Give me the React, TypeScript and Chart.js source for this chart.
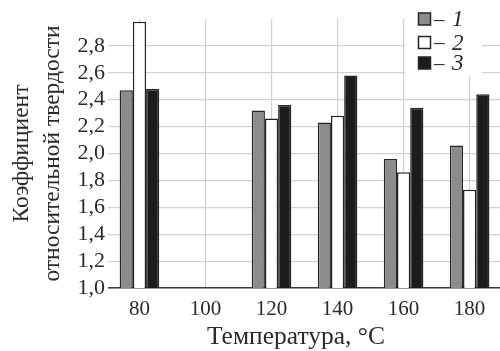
import React, { useEffect, useRef } from 'react';
import { Chart, registerables } from 'chart.js';

Chart.register(...registerables);

const CATEGORIES = [80, 100, 120, 140, 160, 180];
const SERIES_1 = [2.47, null, 2.32, 2.23, 1.96, 2.06];
const SERIES_2 = [2.98, null, 2.26, 2.28, 1.86, 1.73];
const SERIES_3 = [2.48, null, 2.36, 2.58, 2.34, 2.44];
const SERIES_LABELS = ['1', '2', '3'];
const SERIES_FILLS = ['#8c8c8c', '#ffffff', '#1c1c1c'];
const X_TITLE = 'Температура, °C';
const Y_TITLE = ['Коэффициент', 'относительной твердости'];
const Y_MIN = 1.0;
const Y_MAX = 3.0;
const Y_STEP = 0.2;

const FONT = '"Liberation Serif", "Times New Roman", serif';
const TEXT = '#2a2a2a';
const GRID = '#d2d2d2';
const EDGE = '#262626';

const overlayPlugin = {
  id: 'overlay',
  afterDraw(chart: any) {
    const ctx = chart.ctx;
    ctx.save();
    // x-axis title
    ctx.fillStyle = TEXT;
    ctx.textAlign = 'center';
    ctx.textBaseline = 'middle';
    ctx.font = `25.5px ${FONT}`;
    ctx.fillText(X_TITLE, 296, 337);
    // legend
    ctx.fillStyle = '#ffffff';
    ctx.fillRect(405, 0, 77, 76);
    const rows = [19, 42.5, 63];
    chart.data.datasets.forEach((ds: any, i: number) => {
      const cy = rows[i];
      ctx.fillStyle = ds.backgroundColor;
      ctx.fillRect(418.5, cy - 6, 12, 12);
      ctx.strokeStyle = EDGE;
      ctx.lineWidth = 1.5;
      ctx.strokeRect(418.5, cy - 6, 12, 12);
      ctx.fillStyle = TEXT;
      ctx.textBaseline = 'middle';
      ctx.textAlign = 'left';
      ctx.font = `21px ${FONT}`;
      ctx.fillText('–', 434, cy + 1);
      ctx.font = `italic 23px ${FONT}`;
      ctx.fillText(ds.label, 452, cy + 1);
    });
    ctx.restore();
  },
};

export default function App() {
  const ref = useRef<HTMLCanvasElement | null>(null);

  useEffect(() => {
    if (!ref.current) return;
    const series = [SERIES_1, SERIES_2, SERIES_3];
    const chart = new Chart(ref.current, {
      type: 'bar',
      data: {
        datasets: series.map((vals, i) => ({
          label: SERIES_LABELS[i],
          data: CATEGORIES.map((c, j) => ({ x: c, y: vals[j] })),
          backgroundColor: SERIES_FILLS[i],
          borderColor: EDGE,
          borderWidth: 1.5,
          categoryPercentage: 0.6,
          barPercentage: 1.0,
        })),
      } as any,
      options: {
        responsive: false,
        animation: false,
        layout: { padding: { top: 19, right: 0, left: 0, bottom: 0 } },
        plugins: { legend: { display: false }, tooltip: { enabled: false } },
        scales: {
          x: {
            type: 'linear',
            offset: false,
            min: 73.5,
            max: 189.2,
            afterBuildTicks: (scale: any) => {
              scale.ticks = CATEGORIES.map((v) => ({ value: v }));
            },
            afterFit: (scale: any) => {
              scale.height = 63;
            },
            grid: { color: GRID, lineWidth: 1.2, drawTicks: false, offset: false },
            border: { display: false },
            ticks: {
              color: TEXT,
              font: { family: FONT, size: 21 },
              padding: 9,
              autoSkip: false,
              maxRotation: 0,
              callback: (v: any) => String(v),
            },
            title: { display: false },
          },
          y: {
            min: Y_MIN,
            max: Y_MAX,
            afterFit: (scale: any) => {
              scale.width = 118;
            },
            grid: {
              color: (c: any) => {
                const v = c.tick ? c.tick.value : 0;
                if (Math.abs(v - Y_MIN) < 1e-6) return '#3a3a3a';
                if (Math.abs(v - Y_MAX) < 1e-6) return 'rgba(0,0,0,0)';
                return GRID;
              },
              lineWidth: (c: any) => {
                const v = c.tick ? c.tick.value : 0;
                return Math.abs(v - Y_MIN) < 1e-6 ? 1.6 : 1.2;
              },
              tickLength: 10,
            },
            border: { display: false },
            ticks: {
              stepSize: Y_STEP,
              color: TEXT,
              padding: 3,
              autoSkip: false,
              font: { family: FONT, size: 22 },
              callback: (v: any) => {
                const n = Number(v);
                if (Math.abs(n - Y_MAX) < 1e-6) return '';
                return n.toFixed(1).replace('.', ',');
              },
            },
            title: {
              display: true,
              text: Y_TITLE,
              color: TEXT,
              font: { family: FONT, size: 23.5, lineHeight: 1.33 },
              padding: { top: 6, bottom: 0 },
            },
          },
        },
      } as any,
      plugins: [overlayPlugin],
    });
    return () => chart.destroy();
  }, []);

  return (
    <div style={{ position: 'fixed', left: 0, top: 0, width: 500, height: 351, background: '#fff' }}>
      <canvas ref={ref} width={500} height={351} style={{ display: 'block' }} />
    </div>
  );
}
